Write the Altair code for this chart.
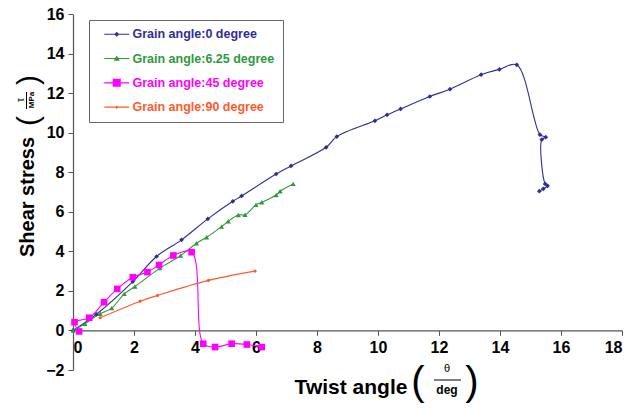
import altair as alt
import pandas as pd

series_names = ["Grain angle:0 degree", "Grain angle:6.25 degree",
                "Grain angle:45 degree", "Grain angle:90 degree"]
colors = ["#2E2E96", "#2E9A3A", "#FF00FF", "#FF5A2E"]

x0 = [0, 0.77, 1.96, 2.74, 3.56, 4.42, 5.24, 5.53, 6.66, 7.15, 8.3, 8.65, 9.9, 10.3,
      10.74, 11.7, 12.36, 13.38, 13.98, 14.55, 15.31, 15.5, 15.37, 15.48, 15.56, 15.42, 15.29]
y0 = [0, 0.82, 2.47, 3.74, 4.58, 5.64, 6.53, 6.8, 7.91, 8.32, 9.26, 9.8, 10.6, 10.9,
      11.2, 11.83, 12.2, 12.93, 13.2, 13.43, 9.9, 9.77, 9.65, 7.41, 7.31, 7.16, 7.04]

x625 = [0, 0.39, 0.89, 1.27, 1.68, 2.03, 2.85, 3.53, 4.05, 4.38, 4.87, 5.09, 5.42, 5.64,
        6.0, 6.19, 6.66, 6.79, 7.22]
y625 = [0, 0.34, 0.84, 1.13, 1.85, 2.22, 3.15, 3.79, 4.41, 4.71, 5.25, 5.52, 5.84, 5.85,
        6.35, 6.48, 6.85, 7.04, 7.41]

x45 = [0.2, 0.05, 0.53, 1.02, 1.45, 1.96, 2.44, 2.82, 3.29, 3.89, 4.27, 4.66, 5.2, 5.7, 6.19]
y45 = [-0.05, 0.42, 0.64, 1.43, 2.1, 2.69, 2.95, 3.31, 3.79, 3.96, -0.67, -0.84, -0.67, -0.71, -0.84]

x90 = [0.89, 2.2, 2.77, 4.44, 5.97]
y90 = [0.64, 1.48, 1.77, 2.53, 3.0]

x_ticks = [0, 2, 4, 6, 8, 10, 12, 14, 16, 18]
y_ticks = [-2, 0, 2, 4, 6, 8, 10, 12, 14, 16]

marker_shapes = ["diamond", "triangle-up", "square", "circle"]
marker_sizes = [22, 26, 44, 10]

rows = []
for name, xs, ys in zip(series_names, [x0, x625, x45, x90], [y0, y625, y45, y90]):
    for i, (a, b) in enumerate(zip(xs, ys)):
        rows.append({"series": name, "x": a, "y": b, "idx": i})
df = pd.DataFrame(rows)

line_part = "M0.2,-0.11H5.2V0.11H0.2Z"
legend_paths = [
    line_part + "M2.2,0L2.7,-0.5L3.2,0L2.7,0.5Z",
    line_part + "M2.1,0.45L2.7,-0.6L3.3,0.45Z",
    line_part + "M1.9,-0.8H3.5V0.8H1.9Z",
    line_part + "M2.35,0L2.7,-0.35L3.05,0L2.7,0.35Z",
]


def by_series(values):
    expr = "".join(f"datum.value == '{n}' ? '{v}' : " for n, v in zip(series_names[:-1], values[:-1]))
    return expr + f"'{values[-1]}'"


color_scale = alt.Scale(domain=series_names, range=colors)

legend = alt.Legend(
    title=None, orient="none", legendX=16, legendY=6,
    padding=8, rowPadding=11.3, symbolSize=100, labelOffset=23,
    labelFont="Liberation Sans", labelFontWeight="bold", labelFontSize=12.5,
    fillColor="white", strokeColor="#666666", labelLimit=300,
    symbolOpacity=1, symbolStrokeWidth=0,
    labelExpr="datum.label + '    '",
    symbolType=alt.ExprRef(expr=by_series(legend_paths)),
    labelColor=alt.ExprRef(expr=by_series(colors)),
)

axis_common = dict(
    grid=False, title=None, domainColor="#555555", tickColor="#555555",
    tickSize=5, labelFont="Liberation Sans", labelFontWeight="bold",
    labelFontSize=16, labelColor="#000000", domainWidth=1.2,
)

x_enc = alt.X("x:Q", scale=alt.Scale(domain=[0, 18], nice=False, zero=False),
              axis=alt.Axis(values=x_ticks, offset=-39.6, labelPadding=4, **axis_common))
y_enc = alt.Y("y:Q", scale=alt.Scale(domain=[-2, 16], nice=False, zero=False),
              axis=alt.Axis(values=y_ticks, labelPadding=4, **axis_common))

legend_layer = alt.Chart(df).mark_point(filled=True, opacity=0).encode(
    x=x_enc, y=y_enc,
    color=alt.Color("series:N", scale=color_scale, legend=legend),
)

lines = alt.Chart(df).mark_line(interpolate="catmull-rom", strokeWidth=1.1).encode(
    x=x_enc, y=y_enc,
    color=alt.Color("series:N", scale=color_scale, legend=None),
    order="idx:Q",
)

point_layers = [
    alt.Chart(df).transform_filter(alt.datum.series == name).mark_point(
        filled=True, opacity=1, shape=shp, size=sz).encode(
        x=x_enc, y=y_enc,
        color=alt.Color("series:N", scale=color_scale, legend=None),
    )
    for name, shp, sz in zip(series_names, marker_shapes, marker_sizes)
]

one = alt.Data(values=[{"a": 1}])


def label(text, x, y, size, weight="normal", angle=0, font="Liberation Sans"):
    return alt.Chart(one).mark_text(
        text=text, fontSize=size, fontWeight=weight, font=font, angle=angle,
        align="center", baseline="middle", color="#000000",
    ).encode(x=alt.value(x), y=alt.value(y))


def hrule(x1, x2, y):
    return alt.Chart(one).mark_rule(color="#000000", strokeWidth=1).encode(
        x=alt.value(x1), x2=alt.value(x2), y=alt.value(y))


def vrule(x, y1, y2):
    return alt.Chart(one).mark_rule(color="#000000", strokeWidth=1).encode(
        x=alt.value(x), y=alt.value(y1), y2=alt.value(y2))


ox, oy = 73, 14
annotations = [
    # x title
    label("Twist angle", 351 - ox, 388 - oy, 21, "bold"),
    label("(", 418 - ox, 383 - oy, 40),
    label("θ", 447 - ox, 369 - oy, 11),
    hrule(434 - ox, 461 - ox, 380 - oy),
    label("deg", 447 - ox, 390 - oy, 12, "bold"),
    label(")", 472 - ox, 383 - oy, 40),
    # y title
    label("Shear stress", 28 - ox, 197 - oy, 20, "bold", angle=270),
    label("(", 29 - ox, 121 - oy, 30, angle=270),
    label("τ", 21 - ox, 100 - oy, 10, angle=270),
    vrule(26.5 - ox, 92 - oy, 109 - oy),
    label("MPa", 32 - ox, 100 - oy, 8, "bold", angle=270),
    label(")", 29 - ox, 80 - oy, 30, angle=270),
]

chart = alt.layer(legend_layer, lines, *point_layers, *annotations).properties(
    width=549, height=356,
    autosize=alt.AutoSizeParams(type="none"),
    padding={"left": 73, "top": 14, "right": 8, "bottom": 39},
    background="white",
).configure_view(stroke=None)

chart.save("out.html", embed_options={"renderer": "svg", "actions": False})
